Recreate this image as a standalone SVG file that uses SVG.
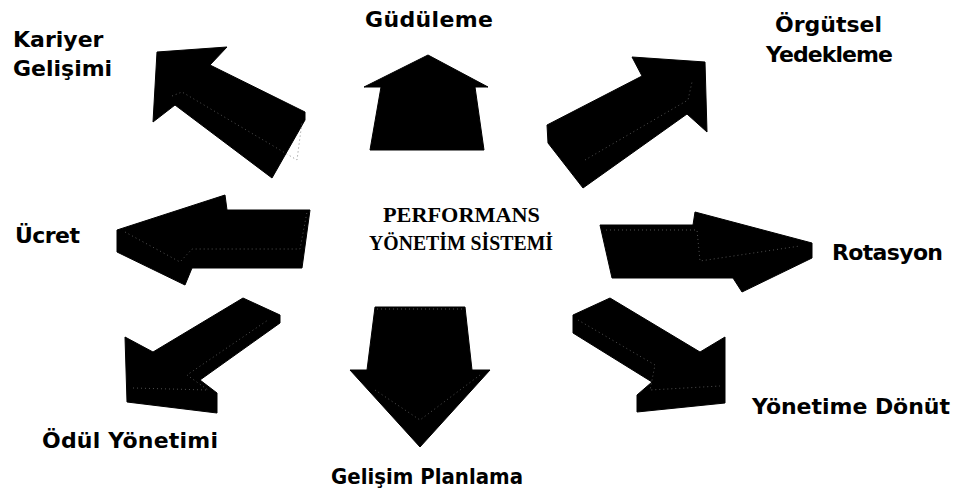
<svg xmlns="http://www.w3.org/2000/svg" width="961" height="492" viewBox="0 0 961 492">
<style>
.lbl{font-family:"DejaVu Sans","Liberation Sans",sans-serif;font-weight:bold;font-size:22px;fill:#000}
.ctr{font-family:"Liberation Serif","Times New Roman",serif;font-weight:bold;font-size:22px;fill:#000}
.arr{fill:#000;stroke:#000;stroke-width:1;stroke-linejoin:round}
.edge{fill:none;stroke:#666;stroke-width:0.8;stroke-dasharray:1 3}
</style>
<rect width="961" height="492" fill="#fff"/>
<g id="arrows">
  <g id="arrow-kariyer">
    <polygon class="arr" points="157,52 227,47 210,65 305,112 305,120 272,178 175,105 153,122"/>
    <polyline class="edge" points="172,96 182,92 297,160 302,122"/>
  </g>
  <g id="arrow-gudu">
    <polygon class="arr" points="428,55 488,87 475,87 484,150 370,150 381,87 364,87"/>
  </g>
  <g id="arrow-orgutsel">
    <polygon class="arr" points="632,57 705,62 707,132 687,114 583,188 548,143 547,125 642,76"/>
    <polyline class="edge" points="585,160 688,100 692,82"/>
  </g>
  <g id="arrow-ucret">
    <polygon class="arr" points="117,230 225,195 227,210 310,210 302,268 192,268 185,285 117,252"/>
    <polyline class="edge" points="125,232 180,262 192,249 300,249 307,212"/>
  </g>
  <g id="arrow-rotasyon">
    <polygon class="arr" points="600,225 693,225 695,212 812,243 812,258 742,292 733,278 612,278"/>
    <polyline class="edge" points="606,230 697,230 700,261 800,246"/>
  </g>
  <g id="arrow-odul">
    <polygon class="arr" points="125,337 153,352 243,298 280,315 280,323 200,380 217,393 217,413 127,402"/>
    <polyline class="edge" points="133,388 208,390 187,375 268,320"/>
  </g>
  <g id="arrow-gelisim">
    <polygon class="arr" points="375,307 465,307 472,370 490,370 420,447 350,370 367,370"/>
    <polyline class="edge" points="377,309 463,309"/>
    <polyline class="edge" points="375,390 420,420 480,375"/>
  </g>
  <g id="arrow-yonetime">
    <polygon class="arr" points="573,315 610,298 700,352 725,337 725,403 637,412 637,395 652,382 573,333"/>
    <polyline class="edge" points="578,320 655,365 650,390 720,386"/>
  </g>
</g>
<g id="node-center">
  <text class="ctr" x="383" y="222" textLength="157" lengthAdjust="spacingAndGlyphs">PERFORMANS</text>
  <text class="ctr" x="369" y="250" textLength="184" lengthAdjust="spacingAndGlyphs">YÖNETİM SİSTEMİ</text>
</g>
<g id="node-kariyer">
  <text class="lbl" x="13" y="47">Kariyer</text>
  <text class="lbl" x="13" y="76">Gelişimi</text>
</g>
<g id="node-gudu">
  <text class="lbl" x="365" y="27" textLength="128">Güdüleme</text>
</g>
<g id="node-orgutsel">
  <text class="lbl" x="775" y="32" textLength="107">Örgütsel</text>
  <text class="lbl" x="766" y="62" textLength="127">Yedekleme</text>
</g>
<g id="node-ucret">
  <text class="lbl" x="15" y="243" textLength="65">Ücret</text>
</g>
<g id="node-rotasyon">
  <text class="lbl" x="832" y="260" textLength="111">Rotasyon</text>
</g>
<g id="node-odul">
  <text class="lbl" x="42" y="448" textLength="176">Ödül Yönetimi</text>
</g>
<g id="node-gelisim">
  <text class="lbl" x="331" y="484" textLength="192" lengthAdjust="spacingAndGlyphs">Gelişim Planlama</text>
</g>
<g id="node-yonetime">
  <text class="lbl" x="752" y="414" textLength="198">Yönetime Dönüt</text>
</g>
</svg>
